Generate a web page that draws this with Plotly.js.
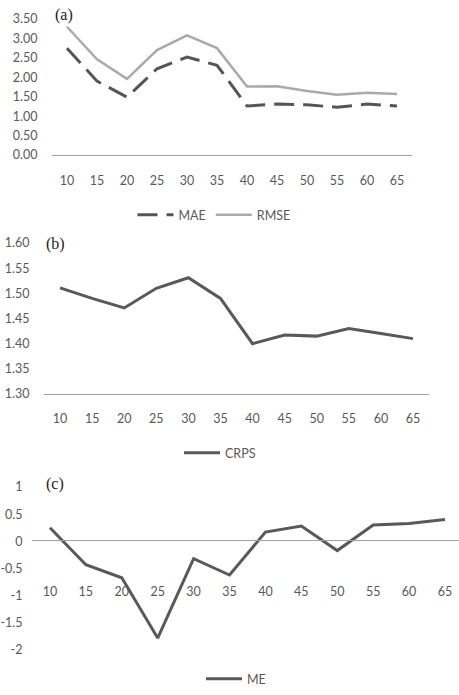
<!DOCTYPE html>
<html>
<head>
<meta charset="utf-8">
<script src="https://cdn.plot.ly/plotly-3.0.1.min.js"></script>
<style>html,body{margin:0;padding:0;background:#fff;}#chart{width:459px;height:695px;}</style>
</head>
<body>
<div id="chart"></div>
<script>
const horizons = [10, 15, 20, 25, 30, 35, 40, 45, 50, 55, 60, 65];
const mae  = [2.75, 1.90, 1.49, 2.22, 2.52, 2.31, 1.26, 1.31, 1.29, 1.23, 1.31, 1.26];
const rmse = [3.30, 2.46, 1.96, 2.70, 3.08, 2.75, 1.76, 1.77, 1.65, 1.55, 1.60, 1.57];
const crps = [1.511, 1.490, 1.471, 1.510, 1.531, 1.490, 1.400, 1.417, 1.415, 1.430, 1.420, 1.410];
const me   = [0.25, -0.43, -0.67, -1.78, -0.32, -0.62, 0.17, 0.28, -0.17, 0.30, 0.33, 0.40];
const meTickVals = [1, 0.5, 0, -0.5, -1, -1.5, -2];
const meTickText = ['1', '0.5', '0', '-0.5', '-1', '-1.5', '-2'];

const W = 459, H = 695;
const px = v => v / W;
const py = v => (H - v) / H;
const tickFont = {family: 'Lato, "Open Sans", sans-serif', size: 12.5, color: '#595959'};
const clear = 'rgba(0,0,0,0)';

const traces = [
  {x: horizons, y: mae, name: 'MAE', type: 'scatter', mode: 'lines', xaxis: 'x', yaxis: 'y',
   line: {color: '#555555', width: 3, dash: '20px,9px'}, legend: 'legend'},
  {x: horizons, y: rmse, name: 'RMSE', type: 'scatter', mode: 'lines', xaxis: 'x', yaxis: 'y',
   line: {color: '#aaaaaa', width: 2.5}, legend: 'legend'},
  {x: horizons, y: crps, name: 'CRPS', type: 'scatter', mode: 'lines', xaxis: 'x2', yaxis: 'y2',
   line: {color: '#595959', width: 3}, legend: 'legend2'},
  {x: horizons, y: me, name: 'ME', type: 'scatter', mode: 'lines', xaxis: 'x3', yaxis: 'y3',
   line: {color: '#595959', width: 3}, legend: 'legend3'}
];

function xax(domain, range, extra) {
  return Object.assign({
    domain: domain, range: range, tickvals: horizons, showgrid: false, zeroline: false,
    showline: true, linecolor: '#a0a0a0', linewidth: 1,
    ticks: 'outside', ticklen: 14, tickcolor: clear, tickfont: tickFont, fixedrange: true
  }, extra || {});
}
function yax(domain, range, extra) {
  return Object.assign({
    domain: domain, range: range, showgrid: false, zeroline: false, showline: false,
    ticks: 'outside', ticklen: 11, tickcolor: clear, tickfont: tickFont, fixedrange: true
  }, extra || {});
}

const legendBase = {orientation: 'h', xanchor: 'center', yanchor: 'middle',
  font: {family: 'Lato, "Open Sans", sans-serif', size: 12.5, color: '#595959'},
  bgcolor: clear, itemwidth: 36};

const labelFont = {family: '"Liberation Serif", serif', size: 16, color: '#222'};

const layout = {
  width: W, height: H,
  margin: {l: 0, r: 0, t: 0, b: 0},
  paper_bgcolor: '#fff', plot_bgcolor: '#fff',
  showlegend: true,
  xaxis:  xax([px(52), px(412)], [7.5, 67.5], {anchor: 'y'}),
  yaxis:  yax([py(155), py(19)], [0, 3.5], {anchor: 'x', dtick: 0.5, tick0: 0, tickformat: '.2f'}),
  xaxis2: xax([px(44), px(429)], [7.5, 67.5], {anchor: 'y2', ticklen: 13}),
  yaxis2: yax([py(394), py(243)], [1.30, 1.60], {anchor: 'x2', dtick: 0.05, tick0: 1.3, tickformat: '.2f'}),
  xaxis3: xax([px(32), 1], [7.5, 66.95], {anchor: 'free', position: py(540), ticklen: 40}),
  yaxis3: yax([py(650), py(487)], [-2, 1], {anchor: 'x3', tickvals: meTickVals, ticktext: meTickText, ticklen: 6}),
  legend:  Object.assign({}, legendBase, {x: px(214), y: py(215)}),
  legend2: Object.assign({}, legendBase, {x: px(220), y: py(453)}),
  legend3: Object.assign({}, legendBase, {x: px(236), y: py(679)}),
  annotations: [
    {text: '(a)', xref: 'paper', yref: 'paper', x: px(53), y: py(15), xanchor: 'left', yanchor: 'middle',
     showarrow: false, font: labelFont},
    {text: '(b)', xref: 'paper', yref: 'paper', x: px(44), y: py(244), xanchor: 'left', yanchor: 'middle',
     showarrow: false, font: labelFont},
    {text: '(c)', xref: 'paper', yref: 'paper', x: px(44), y: py(484), xanchor: 'left', yanchor: 'middle',
     showarrow: false, font: labelFont}
  ]
};

Plotly.newPlot('chart', traces, layout, {displayModeBar: false, staticPlot: true});
</script>
</body>
</html>
